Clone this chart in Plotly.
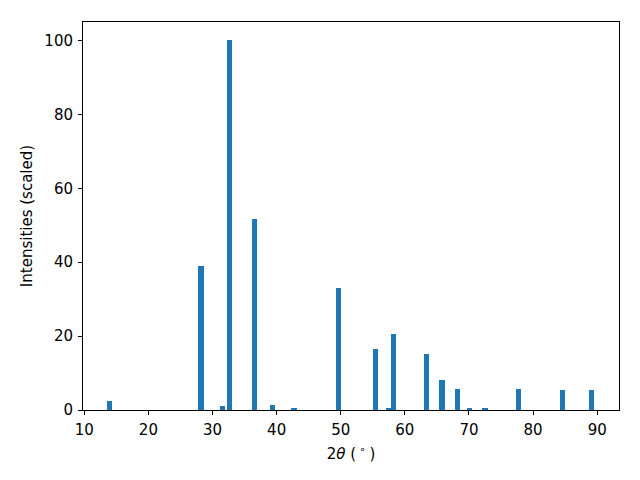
import plotly.graph_objects as go

two_theta = [13.95, 28.2, 31.6, 32.7, 36.55, 39.3, 42.7, 49.7, 55.45, 57.5, 58.25,
             63.4, 65.8, 68.2, 70.1, 72.5, 77.75, 84.6, 89.15]
intensity = [2.4, 39.0, 1.1, 100.0, 51.7, 1.4, 0.4, 33.0, 16.5, 0.3, 20.6,
             15.2, 8.1, 5.7, 0.3, 0.3, 5.7, 5.4, 5.4]

x_ticks = [10, 20, 30, 40, 50, 60, 70, 80, 90]
y_ticks = [0, 20, 40, 60, 80, 100]

fig = go.Figure(go.Bar(x=two_theta, y=intensity, width=0.8,
                       marker=dict(color="#1f77b4", line=dict(width=0))))

font = dict(family="DejaVu Sans", size=15, color="black")
axis_common = dict(showline=True, linecolor="black", linewidth=1, mirror=True,
                   ticks="outside", ticklen=4, tickwidth=1, tickcolor="black",
                   showgrid=False, zeroline=False, tickfont=font, automargin=False,
                   ticklabelstandoff=2)

fig.update_layout(
    width=640, height=480,
    margin=dict(l=75, r=29, t=14, b=78),
    paper_bgcolor="white", plot_bgcolor="white",
    font=font, showlegend=False, bargap=0,
    xaxis=dict(range=[9.8, 93.4], tickvals=x_ticks,
               title=dict(text="2<i>θ</i> (<sup> ∘ </sup>)", font=font, standoff=10),
               **axis_common),
    yaxis=dict(range=[0, 105], tickvals=y_ticks,
               title=dict(text="Intensities (scaled)", font=font, standoff=8),
               **axis_common),
)

fig.write_html("out.html")
